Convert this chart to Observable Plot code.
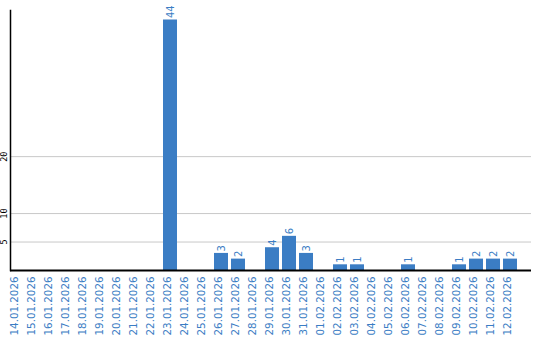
<!DOCTYPE html>
<html>
<head>
<meta charset="utf-8">
<script src="https://cdn.jsdelivr.net/npm/d3@7"></script>
<script src="https://cdn.jsdelivr.net/npm/@observablehq/plot@0.6"></script>
<style>
  html, body { margin: 0; padding: 0; background: #fff; }
  #chart svg { display: block; }
</style>
</head>
<body>
<div id="chart"></div>
<script>
const dates = [
  "14.01.2026","15.01.2026","16.01.2026","17.01.2026","18.01.2026","19.01.2026",
  "20.01.2026","21.01.2026","22.01.2026","23.01.2026","24.01.2026","25.01.2026",
  "26.01.2026","27.01.2026","28.01.2026","29.01.2026","30.01.2026","31.01.2026",
  "01.02.2026","02.02.2026","03.02.2026","04.02.2026","05.02.2026","06.02.2026",
  "07.02.2026","08.02.2026","09.02.2026","10.02.2026","11.02.2026","12.02.2026"
];
const counts = [0,0,0,0,0,0,0,0,0,44,0,0,3,2,0,4,6,3,0,1,1,0,0,1,0,0,1,2,2,2];
const yTicks = [5, 10, 20];

const data = dates.map((d, i) => ({date: d, value: counts[i]}));
const blue = "#3b7dc4";

const chart = Plot.plot({
  width: 540,
  height: 340,
  marginTop: 10,
  marginLeft: 10,
  marginRight: 9,
  marginBottom: 70,
  style: {fontFamily: "DejaVu Sans", background: "#fff"},
  x: {domain: dates, range: [6.5, 521], padding: 0.18, axis: null},
  y: {domain: [0, 44], range: [270, 19.5], axis: null},
  marks: [
    Plot.gridY(yTicks, {stroke: "#c8c8c8", strokeOpacity: 1}),
    Plot.barY(data, {x: "date", y: "value", fill: blue}),
    Plot.text(data.filter(d => d.value > 0), {
      x: "date", y: "value", text: d => String(d.value),
      rotate: -90, textAnchor: "start", dy: -2,
      fill: blue, fontSize: 10
    }),
    Plot.text(data, {
      x: "date", text: "date", frameAnchor: "bottom",
      rotate: -90, textAnchor: "end", dy: 6,
      fill: blue, fontSize: 10.3
    }),
    Plot.text(yTicks, {
      y: d => d, text: d => String(d), frameAnchor: "left",
      rotate: -90, textAnchor: "middle", dx: -6,
      fill: "#000", fontSize: 8.5, fontFamily: "DejaVu Sans Mono"
    }),
    Plot.ruleY([0], {stroke: "#000", strokeWidth: 2}),
    Plot.frame({anchor: "left", stroke: "#000", strokeWidth: 1.5})
  ]
});
document.getElementById("chart").appendChild(chart);
</script>
</body>
</html>
